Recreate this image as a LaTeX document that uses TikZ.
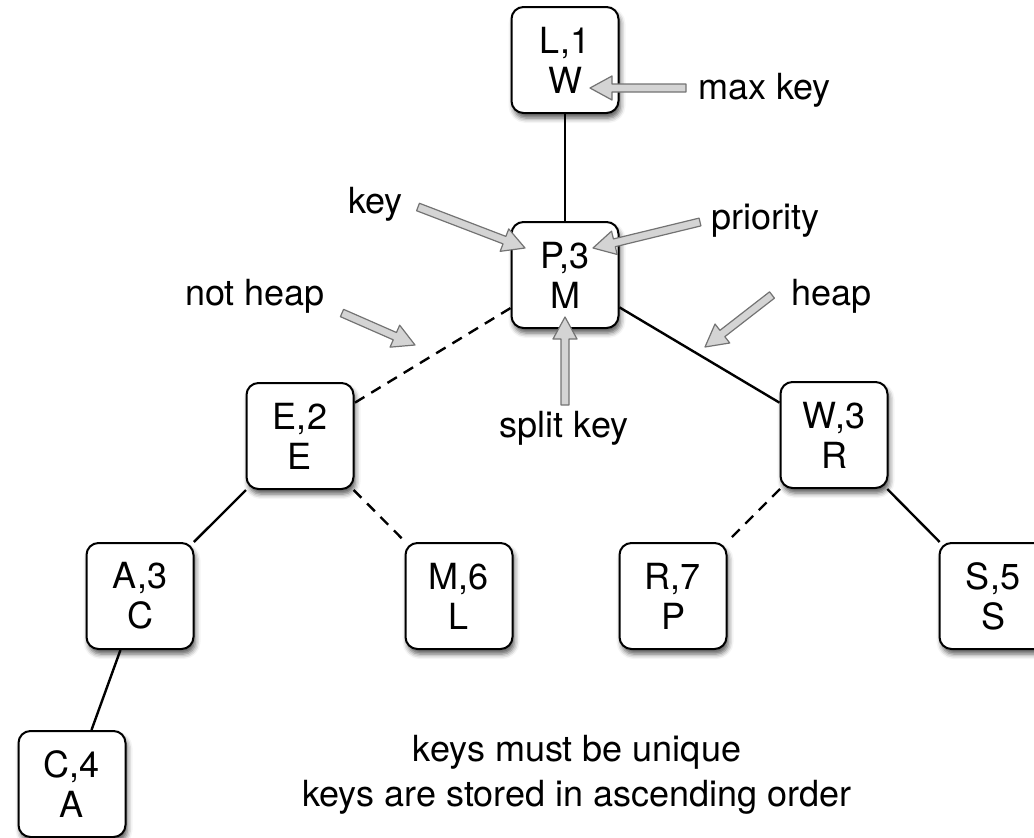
\documentclass[tikz,border=0pt]{standalone}
\usepackage{fontspec}
\setmainfont{TeX Gyre Heros}
\usetikzlibrary{calc,shadows.blur}

\tikzset{
  tnode/.style={draw=black, line width=2pt, fill=white, rounded corners=12pt,
    minimum width=107pt, minimum height=106pt, inner sep=0pt, align=center,
    font=\fontsize{36}{40}\selectfont,
    blur shadow={shadow xshift=2pt, shadow yshift=-5pt, shadow blur radius=5pt, shadow opacity=65}},
  solidedge/.style={line width=2.4pt},
  dashedge/.style={line width=2.4pt, dash pattern=on 11pt off 8pt},
  lbl/.style={font=\fontsize{36}{40}\selectfont, inner sep=0pt},
  barrow/.style={draw=black!55, fill=black!17, line width=1.2pt, line join=round}
}

% block arrow from tail #1 to tip #2
\newcommand{\blockarrow}[2]{%
  \coordinate (ba-h) at ($(#2)!22pt!(#1)$);
  \draw[barrow] ($(#1)!4pt!90:(#2)$) -- ($(ba-h)!4pt!90:(#2)$) -- ($(ba-h)!12pt!90:(#2)$)
    -- (#2) -- ($(ba-h)!12pt!-90:(#2)$) -- ($(ba-h)!4pt!-90:(#2)$)
    -- ($(#1)!4pt!-90:(#2)$) -- cycle;
}

\begin{document}
\begin{tikzpicture}[x=1pt, y=-1pt]
  \useasboundingbox (0,0) rectangle (1034,838);
  \clip (0,0) rectangle (1034,838);

  % tree nodes
  \node[tnode] (L1) at (565,60)  {L,1\\W};
  \node[tnode] (P3) at (565,275) {P,3\\M};
  \node[tnode] (E2) at (300,436) {E,2\\E};
  \node[tnode] (W3) at (834,435) {W,3\\R};
  \node[tnode] (A3) at (140,596) {A,3\\C};
  \node[tnode] (M6) at (459,596) {M,6\\L};
  \node[tnode] (R7) at (673,596) {R,7\\P};
  \node[tnode] (S5) at (993,596) {S,5\\S};
  \node[tnode] (C4) at (72,784)  {C,4\\A};

  % tree edges
  \draw[solidedge] (L1) -- (P3);
  \draw[dashedge]  (P3) -- (E2);
  \draw[solidedge] (P3) -- (W3);
  \draw[solidedge] (E2) -- (A3);
  \draw[dashedge]  (E2) -- (M6);
  \draw[dashedge]  (W3) -- (R7);
  \draw[solidedge] (W3) -- (S5);
  \draw[solidedge] (A3) -- (C4);

  % annotations
  \node[lbl, anchor=base west] (tmax)   at (698,99)  {max key};
  \node[lbl, anchor=base west] (tkey)   at (348,213) {key};
  \node[lbl, anchor=base west] (tprio)  at (711,229) {priority};
  \node[lbl, anchor=base west] (tnot)   at (185,305) {not heap};
  \node[lbl, anchor=base west] (theap)  at (791,305) {heap};
  \node[lbl, anchor=base]      (tsplit) at (564,437) {split key};
  \node[lbl, anchor=base]      (tnote1) at (577,761) {keys must be unique};
  \node[lbl, anchor=base]      (tnote2) at (577,806) {keys are stored in ascending order};

  % annotation arrows
  \coordinate (amax0) at (686,88);   \coordinate (amax1) at (590,88);
  \coordinate (akey0) at (418,207);  \coordinate (akey1) at (525,248);
  \coordinate (apri0) at (700,222);  \coordinate (apri1) at (593,248);
  \coordinate (anot0) at (342,313);  \coordinate (anot1) at (415,345);
  \coordinate (ahp0)  at (772,295);  \coordinate (ahp1)  at (705,347);
  \coordinate (asp0)  at (565,405);  \coordinate (asp1)  at (565,317);
  \blockarrow{amax0}{amax1}
  \blockarrow{akey0}{akey1}
  \blockarrow{apri0}{apri1}
  \blockarrow{anot0}{anot1}
  \blockarrow{ahp0}{ahp1}
  \blockarrow{asp0}{asp1}
\end{tikzpicture}
\end{document}
